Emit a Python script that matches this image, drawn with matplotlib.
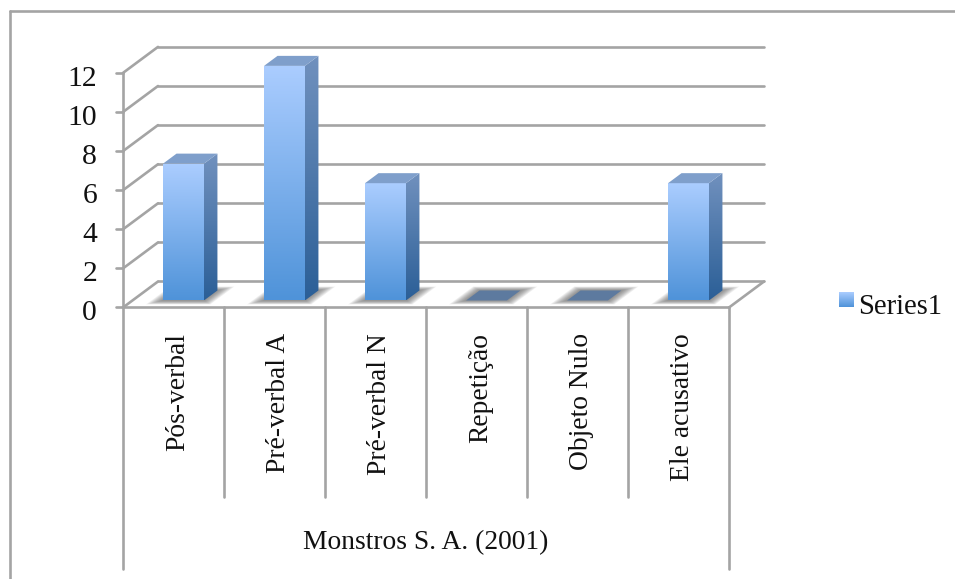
#--------------------------------------------------------------------------------
# Excel style 3D column chart, drawn on a flat axes with a depth offset
#--------------------------------------------------------------------------------

import numpy as np
from matplotlib import pyplot as plt
from matplotlib.colors import LinearSegmentedColormap
from matplotlib.patches import Polygon
from matplotlib.transforms import IdentityTransform

############## Data ##############################################################

categories = ["Pós-verbal", "Pré-verbal A", "Pré-verbal N", "Repetição", "Objeto Nulo", "Ele acusativo"]
values = [7, 12, 6, 0, 0, 6]
y_ticks = [0, 2, 4, 6, 8, 10, 12]
group_label = "Monstros S. A. (2001)"
series_name = "Series1"

############## Settings ##########################################################

W, H = 955, 579
LEFT, X_STEP = 123, 101      # pixels of category 0 and width of one category
BASE, Y_STEP = 307.5, 19.55  # pixels of value 0 (from top) and of one unit
DEPTH_X, DEPTH_Y = 35, 26    # depth of the floor in pixels
BAR_X, BAR_W = 0.303, 0.405
BAR_D0, BAR_D1 = 0.27, 0.655

GRID = "#a4a4a4"
LW = 1.9
FONT = "Liberation Serif"
FS = 19.8

front_cmap = LinearSegmentedColormap.from_list("front", ["#abcdff", "#4f93d9"])
side_cmap = LinearSegmentedColormap.from_list("side", ["#7191be", "#2b5f97"])
TOP_COLOR = "#7f9fcb"
FLAT_COLOR = "#5d7a9f"

fig = plt.figure(figsize=(W / 100, H / 100), dpi=100, facecolor="white")
ax = fig.add_axes([0, 0, 1, 1])
ax.set_axis_off()


def set_limits():
    ax.set_xlim(-LEFT / X_STEP, (W - LEFT) / X_STEP)
    ax.set_ylim((BASE - H) / Y_STEP, BASE / Y_STEP)


set_limits()


def pt(x, v, d=0.0):
    """ Display position of category position x, value v, at depth d (0 front, 1 back) """
    p = ax.transData.transform((x, v))
    return (p[0] + d * DEPTH_X, p[1] + d * DEPTH_Y)


def line(a, b, color=GRID, lw=LW, z=1):
    ax.plot([a[0], b[0]], [a[1], b[1]], color=color, lw=lw, zorder=z,
            transform=IdentityTransform(), solid_capstyle="round", clip_on=False)


def poly(points, color, z, alpha=None):
    patch = Polygon(points, closed=True, facecolor=color, edgecolor="none", alpha=alpha,
                    zorder=z, transform=IdentityTransform())
    ax.add_patch(patch)
    return patch


def gradient(points, cmap, z):
    """ Vertical gradient clipped to a polygon """
    xs = [p[0] for p in points]
    ys = [p[1] for p in points]
    clip = Polygon(points, closed=True, facecolor="none", edgecolor="none", transform=IdentityTransform())
    ax.add_patch(clip)
    img = ax.imshow(np.linspace(0, 1, 128).reshape(-1, 1), cmap=cmap, aspect="auto", origin="upper",
                    extent=(min(xs), max(xs), min(ys), max(ys)), transform=IdentityTransform(), zorder=z)
    img.set_clip_path(clip)


############## Frame of the picture ##############################################

line((10, H - 11), (W, H - 11))
line((10, H - 11), (10, 0))

############## Walls and grid ####################################################

for v in y_ticks:
    line(pt(0, v), pt(0, v, 1))
    line(pt(0, v, 1), pt(len(categories), v, 1))
    line((pt(0, v)[0] - 7, pt(0, v)[1]), pt(0, v))
    ax.text(pt(0, v)[0] - 26, pt(0, v)[1] - 6, str(v), transform=IdentityTransform(), ha="right", va="center",
            family=FONT, fontsize=FS + 1.5, color="#111111")
line(pt(0, 12), pt(0, 0), z=2)
line(pt(0, 0), pt(len(categories), 0), z=2)
line(pt(len(categories), 0), pt(len(categories), 0, 1), z=2)

############## Bars ##############################################################

for i, val in enumerate(values):
    x0 = i + BAR_X
    x1 = x0 + BAR_W

    # soft shadow on the floor
    for k in range(10):
        grow = 1 - k / 10
        ex, ed = 0.115 * grow, 0.15 * grow
        poly([pt(x0 - ex, 0, BAR_D0 - ed), pt(x1 + ex, 0, BAR_D0 - ed),
              pt(x1 + ex, 0, BAR_D1 + ed), pt(x0 - ex, 0, BAR_D1 + ed)], "#5a5a5a", 3, alpha=0.09)

    if val == 0:
        poly([pt(x0, 0, BAR_D0), pt(x1, 0, BAR_D0), pt(x1, 0, BAR_D1), pt(x0, 0, BAR_D1)], FLAT_COLOR, 4)
        continue

    gradient([pt(x1, 0, BAR_D0), pt(x1, 0, BAR_D1), pt(x1, val, BAR_D1), pt(x1, val, BAR_D0)], side_cmap, 4)
    gradient([pt(x0, 0, BAR_D0), pt(x1, 0, BAR_D0), pt(x1, val, BAR_D0), pt(x0, val, BAR_D0)], front_cmap, 5)
    poly([pt(x0, val, BAR_D0), pt(x1, val, BAR_D0), pt(x1, val, BAR_D1), pt(x0, val, BAR_D1)], TOP_COLOR, 5)

############## Category axis #####################################################

for i in range(len(categories) + 1):
    long_line = i == 0 or i == len(categories)
    bottom = H - 569 if long_line else H - 497
    top = pt(i, 0)
    line(top, (top[0], bottom))

for i, name in enumerate(categories):
    ax.text(pt(i + 0.5, 0)[0] + 4, H - 333, name, transform=IdentityTransform(), rotation=90,
            ha="center", va="top", family=FONT, fontsize=FS, color="#111111")

ax.text(pt(3, 0)[0], H - 543, group_label, transform=IdentityTransform(), ha="center", va="center",
        family=FONT, fontsize=FS, color="#111111")

############## Legend ############################################################

gradient([(839, H - 307), (854, H - 307), (854, H - 292), (839, H - 292)], front_cmap, 5)
ax.text(858, H - 304, series_name, transform=IdentityTransform(), ha="left", va="center_baseline",
        family=FONT, fontsize=FS + 0.8, color="#111111")

set_limits()
fig.savefig("out.png", dpi=100, facecolor="white")
